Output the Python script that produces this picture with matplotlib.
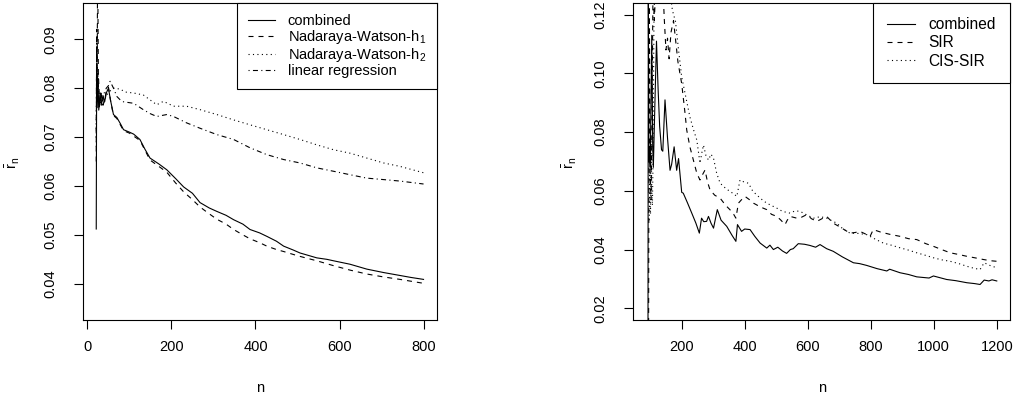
import matplotlib
matplotlib.use("Agg")
import matplotlib.pyplot as plt

plt.rcParams['font.family'] = ['Liberation Sans', 'DejaVu Sans']
plt.rcParams['mathtext.fontset'] = 'custom'
plt.rcParams['mathtext.rm'] = 'Liberation Sans'
plt.rcParams['mathtext.it'] = 'Liberation Sans'

# 左图数据
n_comb_l = [21, 22, 23, 25, 27, 30, 33, 37, 41, 45, 50, 55, 62, 70, 78, 86, 100, 110, 125, 137, 149,
            170, 189, 210, 229, 250, 268, 290, 308, 330, 348, 370, 387, 410, 427, 450, 467, 490,
            506, 530, 546, 570, 586, 625, 665, 705, 744, 770, 800]
comb_l = [0.0512, 0.0834, 0.0760, 0.0820, 0.0755, 0.0790, 0.0765, 0.0785, 0.0772, 0.0790, 0.0800,
          0.0775, 0.0746, 0.0740, 0.0728, 0.0715, 0.0710, 0.0706, 0.0695, 0.0675, 0.0657, 0.0645,
          0.0633, 0.0615, 0.0598, 0.0585, 0.0566, 0.0555, 0.0548, 0.0540, 0.0531, 0.0522, 0.0511,
          0.0504, 0.0497, 0.0487, 0.0477, 0.0469, 0.0463, 0.0457, 0.0453, 0.0450, 0.0447, 0.0440,
          0.0430, 0.0423, 0.0417, 0.0413, 0.0409]

n_nw1 = [21, 22, 23, 24, 25, 26, 28, 30, 33, 37, 41, 45, 50, 55, 62, 70, 86, 100, 125, 149, 170,
         189, 210, 229, 250, 268, 290, 308, 330, 348, 370, 387, 410, 427, 450, 467, 490, 506, 546,
         586, 625, 665, 705, 744, 800]
nw1 = [0.0650, 0.0920, 0.0780, 0.1000, 0.0970, 0.0830, 0.0790, 0.0770, 0.0785, 0.0765, 0.0775,
       0.0795, 0.0802, 0.0775, 0.0744, 0.0738, 0.0713, 0.0708, 0.0693, 0.0653, 0.0640, 0.0628,
       0.0606, 0.0588, 0.0572, 0.0557, 0.0543, 0.0532, 0.0522, 0.0511, 0.0500, 0.0492, 0.0484,
       0.0477, 0.0470, 0.0466, 0.0460, 0.0456, 0.0447, 0.0437, 0.0428, 0.0420, 0.0414, 0.0409,
       0.0401]

n_nw2 = [21, 22, 23, 25, 28, 32, 36, 40, 45, 50, 55, 62, 70, 78, 90, 110, 133, 165, 181, 205, 236,
         268, 308, 348, 387, 427, 467, 506, 546, 586, 625, 665, 705, 744, 800]
nw2 = [0.0680, 0.0900, 0.0770, 0.0810, 0.0760, 0.0780, 0.0765, 0.0775, 0.0785, 0.0790, 0.0795,
       0.0800, 0.0799, 0.0798, 0.0792, 0.0790, 0.0786, 0.0766, 0.0773, 0.0763, 0.0763, 0.0756,
       0.0746, 0.0735, 0.0725, 0.0715, 0.0705, 0.0695, 0.0684, 0.0674, 0.0667, 0.0657, 0.0647,
       0.0640, 0.0627]

n_lr = [21, 22, 23, 25, 28, 32, 36, 40, 45, 50, 54, 62, 70, 78, 86, 110, 133, 149, 165, 189, 205,
        236, 268, 308, 348, 387, 427, 467, 506, 546, 586, 625, 665, 705, 744, 800]
lr = [0.0700, 0.0880, 0.0780, 0.0830, 0.0760, 0.0790, 0.0770, 0.0790, 0.0800, 0.0805, 0.0814,
      0.0800, 0.0783, 0.0776, 0.0772, 0.0769, 0.0756, 0.0748, 0.0742, 0.0746, 0.0742, 0.0729,
      0.0718, 0.0705, 0.0695, 0.0678, 0.0664, 0.0654, 0.0647, 0.0637, 0.0630, 0.0623, 0.0616,
      0.0613, 0.0610, 0.0604]

# 右图数据
n_comb_r = [93, 94, 96, 98, 100, 102, 105, 108, 110, 115, 120, 125, 130, 136, 140, 147, 155, 163,
            168, 176, 184, 190, 200, 205, 218, 232, 245, 256, 263, 270, 279, 285, 293, 301, 313,
            325, 343, 360, 372, 377, 390, 400, 417, 432, 449, 470, 480, 491, 505, 520, 533, 545,
            554, 570, 590, 607, 625, 639, 660, 681, 710, 745, 765, 787, 820, 851, 860, 893, 920,
            946, 985, 999, 1041, 1070, 1105, 1130, 1147, 1160, 1175, 1185, 1200]
comb_r = [0.010, 0.130, 0.070, 0.075, 0.068, 0.085, 0.113, 0.075, 0.068, 0.090, 0.111, 0.095,
          0.082, 0.074, 0.0735, 0.091, 0.078, 0.067, 0.069, 0.075, 0.067, 0.071, 0.0595, 0.0592,
          0.056, 0.0524, 0.049, 0.0456, 0.0507, 0.0495, 0.0496, 0.0513, 0.049, 0.0473, 0.0536,
          0.050, 0.0479, 0.0448, 0.0428, 0.0485, 0.0462, 0.047, 0.0468, 0.0445, 0.0422, 0.0405,
          0.0415, 0.040, 0.0408, 0.0395, 0.0387, 0.040, 0.0403, 0.042, 0.0418, 0.0414, 0.0408,
          0.0417, 0.0403, 0.0394, 0.0375, 0.0355, 0.0352, 0.0346, 0.0335, 0.0327, 0.0333, 0.0321,
          0.0315, 0.0307, 0.0303, 0.031, 0.0298, 0.0294, 0.0287, 0.0284, 0.0281, 0.0296, 0.0293,
          0.0297, 0.0293]

n_sir = [95, 97, 100, 103, 106, 109, 113, 118, 140, 145, 150, 155, 160, 166, 174, 180, 188, 200,
         210, 216, 226, 237, 248, 258, 266, 274, 282, 290, 305, 322, 340, 353, 365, 372, 380, 390,
         401, 415, 428, 450, 470, 485, 502, 515, 528, 535, 544, 565, 580, 597, 612, 629, 645, 660,
         681, 705, 734, 750, 766, 785, 798, 808, 830, 860, 893, 920, 946, 975, 999, 1025, 1052,
         1080, 1105, 1130, 1158, 1180, 1200]
sir = [0.015, 0.130, 0.065, 0.057, 0.090, 0.130, 0.118, 0.130, 0.130, 0.118, 0.108, 0.112, 0.105,
       0.114, 0.118, 0.112, 0.104, 0.0965, 0.087, 0.0807, 0.075, 0.0705, 0.066, 0.0637, 0.0655,
       0.0671, 0.063, 0.0603, 0.0585, 0.0575, 0.055, 0.0536, 0.052, 0.0507, 0.0558, 0.057,
       0.0581, 0.057, 0.0558, 0.0545, 0.0536, 0.052, 0.0513, 0.050, 0.0485, 0.050, 0.0513,
       0.0507, 0.051, 0.0519, 0.0505, 0.0496, 0.0505, 0.0513, 0.049, 0.0475, 0.0456, 0.0458,
       0.0462, 0.0452, 0.0445, 0.0468, 0.046, 0.0452, 0.0445, 0.0437, 0.0434, 0.042, 0.0411,
       0.040, 0.0389, 0.0383, 0.0377, 0.0372, 0.0366, 0.0362, 0.036]

n_cis = [97, 99, 101, 103, 105, 107, 109, 112, 115, 160, 170, 174, 180, 190, 200, 213, 226, 237,
         248, 258, 264, 269, 277, 285, 293, 301, 311, 322, 338, 353, 365, 375, 385, 398, 412, 425,
         438, 455, 470, 485, 502, 520, 544, 560, 576, 597, 618, 640, 660, 692, 712, 734, 760, 787,
         815, 840, 865, 893, 920, 946, 975, 999, 1025, 1052, 1080, 1105, 1125, 1147, 1160, 1180,
         1200]
cis = [0.050, 0.066, 0.052, 0.077, 0.060, 0.055, 0.070, 0.120, 0.130, 0.130, 0.122, 0.120, 0.118,
       0.108, 0.0988, 0.092, 0.0852, 0.081, 0.0773, 0.0694, 0.073, 0.0756, 0.072, 0.0705, 0.0725,
       0.0711, 0.066, 0.0626, 0.061, 0.0598, 0.059, 0.0581, 0.0637, 0.063, 0.0626, 0.060, 0.0586,
       0.057, 0.0558, 0.055, 0.0541, 0.053, 0.0524, 0.0532, 0.053, 0.0518, 0.0507, 0.0512,
       0.0507, 0.049, 0.047, 0.0456, 0.0455, 0.0451, 0.0435, 0.0422, 0.0415, 0.0406, 0.0398,
       0.0389, 0.038, 0.0372, 0.0365, 0.036, 0.0352, 0.0343, 0.0337, 0.0332, 0.0355, 0.0345,
       0.0338]

fig = plt.figure(figsize=(10.16, 4.0), dpi=100)
ax1 = fig.add_axes([0.0817, 0.2, 0.3484, 0.7925])
ax2 = fig.add_axes([0.6233, 0.2, 0.3708, 0.7925])

lw = 0.8
dash = (0, (4.5, 4.5))
dot = (0, (1, 3))
dotdash = (0, (1, 3, 4.5, 3))

ax1.plot(n_comb_l, comb_l, color='black', lw=lw, ls='-', label='combined')
ax1.plot(n_nw1, nw1, color='black', lw=lw, ls=dash, label=r'Nadaraya-Watson-h$_\mathrm{1}$')
ax1.plot(n_nw2, nw2, color='black', lw=lw, ls=dot, label=r'Nadaraya-Watson-h$_\mathrm{2}$')
ax1.plot(n_lr, lr, color='black', lw=lw, ls=dotdash, label='linear regression')
ax1.set_xlim(-10.5, 832)
ax1.set_ylim(0.0326, 0.0974)
ax1.set_xticks([0, 200, 400, 600, 800])
ax1.set_yticks([0.04, 0.05, 0.06, 0.07, 0.08, 0.09])
ax1.set_yticklabels(['0.04', '0.05', '0.06', '0.07', '0.08', '0.09'])

ax2.plot(n_comb_r, comb_r, color='black', lw=lw, ls='-', label='combined')
ax2.plot(n_sir, sir, color='black', lw=lw, ls=dash, label='SIR')
ax2.plot(n_cis, cis, color='black', lw=lw, ls=dot, label='CIS-SIR')
ax2.set_xlim(46.3, 1242)
ax2.set_ylim(0.016, 0.124)
ax2.set_xticks([200, 400, 600, 800, 1000, 1200])
ax2.set_yticks([0.02, 0.04, 0.06, 0.08, 0.10, 0.12])
ax2.set_yticklabels(['0.02', '0.04', '0.06', '0.08', '0.10', '0.12'])

# 图例参数: 字号, 行距, 线段长度, 边距
leg_opts = {ax1: (10.5, 0.0, 1.9, 0.75), ax2: (11.2, 0.22, 1.8, 0.9)}

for ax, ylx in [(ax1, -0.198), (ax2, -0.169)]:
    for s in ax.spines.values():
        s.set_linewidth(0.8)
    ax.tick_params(axis='both', direction='out', length=6.5, width=0.8, labelsize=10.5)
    ax.tick_params(axis='x', pad=8)
    ax.tick_params(axis='y', pad=12)
    for t in ax.get_yticklabels():
        t.set_rotation(90)
        t.set_va('center')
    ax.set_xlabel('n', fontsize=10.5, va='center')
    ax.xaxis.set_label_coords(0.5, -0.2145)
    ax.set_ylabel(r'$\bar{\mathrm{r}}_\mathrm{n}$', fontsize=10.5, va='center', ha='center')
    ax.yaxis.set_label_coords(ylx, 0.495)
    fs, ls_, hl, bp = leg_opts[ax]
    leg = ax.legend(loc='upper right', bbox_to_anchor=(1, 1), borderaxespad=0, fancybox=False,
                    edgecolor='black', framealpha=1, fontsize=fs, handlelength=hl,
                    handletextpad=0.85, borderpad=bp, labelspacing=ls_)
    leg.get_frame().set_linewidth(0.8)

plt.savefig('out.png', dpi=100)
